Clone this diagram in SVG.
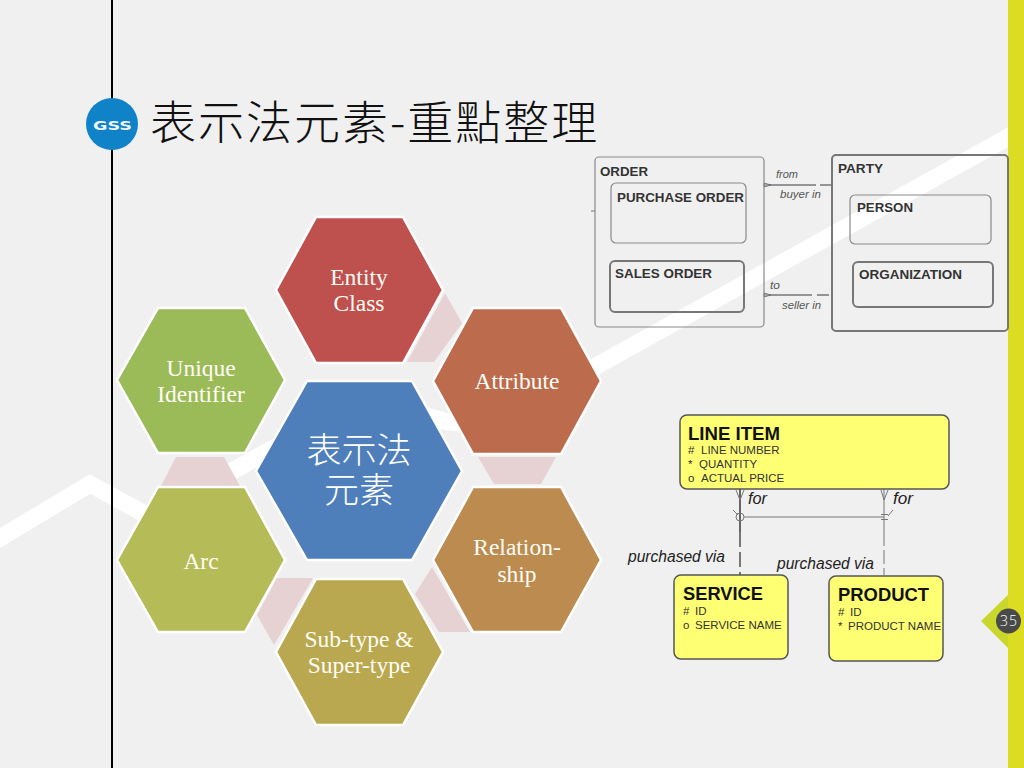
<svg xmlns="http://www.w3.org/2000/svg" width="1024" height="768" viewBox="0 0 1024 768">
<style>
.hex{stroke:#fff;stroke-width:2.5;stroke-linejoin:miter}
.ht{font-family:"Liberation Serif","Noto Serif",serif;font-size:23.5px;fill:#fffdf5;text-anchor:middle}
.pink{fill:#e6d1d3}
.cjk{font-family:"Noto Sans CJK TC","Noto Sans CJK SC",sans-serif;font-weight:300}
.b1{fill:none;stroke:#8a8a8a;stroke-width:1.2}
.b2{fill:none;stroke:#777;stroke-width:2}
.et{font-family:"Liberation Sans",Arial,sans-serif;font-weight:bold;font-size:13px;fill:#333}
.rl{font-family:"Liberation Sans",Arial,sans-serif;font-style:italic;font-size:11px;fill:#555}
.y{fill:#ffff73;stroke:#555;stroke-width:1.5}
.yt{font-family:"Liberation Sans",Arial,sans-serif;font-weight:bold;font-size:18.5px;fill:#111}
.ya{font-family:"Liberation Sans",Arial,sans-serif;font-size:11.5px;fill:#333}
.yr{font-family:"Liberation Sans",Arial,sans-serif;font-style:italic;font-size:16px;fill:#222}
.c{fill:none;stroke:#777;stroke-width:1}
</style>
<rect id="background" width="1024" height="768" fill="#f0f0f0"/>
<polyline id="band" points="-5,541 90,484 150,517 245,464 365,397 445,421.5 490,425 1012,135" fill="none" stroke="#fff" stroke-width="17" stroke-linejoin="miter"/>
<rect id="stripe" x="1008" width="16" height="768" fill="#dcdc22"/>
<rect id="rule" x="111" width="2" height="768" fill="#000"/>
<g id="logo">
<circle cx="112" cy="124" r="26" fill="#0f82c8"/>
<text x="112.500" y="129.500" text-anchor="middle" textLength="39" lengthAdjust="spacingAndGlyphs" font-family="DejaVu Sans,sans-serif" font-weight="bold" font-size="12.500" fill="#eef6fb">GSS</text>
</g>
<text id="title" class="cjk" x="150" y="139" font-size="46" letter-spacing="2" fill="#111">表示法元素-重點整理</text>

<g id="connectors-cycle">
<polygon class="pink" points="445,293 462,323 434,362 407,362"/>
<polygon class="pink" points="478,457 556,457 541,484 494,484"/>
<polygon class="pink" points="432,567 470,632 439,632 415,594"/>
<polygon class="pink" points="277,578 313,578 274,645 257,615"/>
<polygon class="pink" points="176,457 224,457 240,486 161,486"/>
</g>
<g id="hex-center"><polygon class="hex" fill="#4f7fbb" points="256,471 307,381 412,381 462,471 412,560 307,560"/>
<text class="cjk" font-size="35" fill="#fff" text-anchor="middle"><tspan x="359" y="463">表示法</tspan><tspan x="359" y="503">元素</tspan></text></g>
<g id="hex-entity"><polygon class="hex" fill="#be504e" points="276,290 316,217 403,217 443,290 403,363 316,363"/>
<text class="ht" x="359" y="285">Entity</text><text class="ht" x="359" y="311">Class</text></g>
<g id="hex-attribute"><polygon class="hex" fill="#bc6c4d" points="433,381 473,308 561,308 601,381 561,454 473,454"/>
<text class="ht" x="517" y="389">Attribute</text></g>
<g id="hex-relationship"><polygon class="hex" fill="#bb8b50" points="433,560 473,487 561,487 601,560 561,632 473,632"/>
<text class="ht" x="517" y="555">Relation-</text><text class="ht" x="517" y="582">ship</text></g>
<g id="hex-subtype"><polygon class="hex" fill="#b9a850" points="276,652 316,579 403,579 443,652 403,725 316,725"/>
<text class="ht" x="359" y="647">Sub-type &amp;</text><text class="ht" x="359" y="673">Super-type</text></g>
<g id="hex-arc"><polygon class="hex" fill="#b4bb57" points="117,560 158,487 245,487 285,560 245,632 158,632"/>
<text class="ht" x="201" y="569">Arc</text></g>
<g id="hex-unique"><polygon class="hex" fill="#9bbb59" points="117,380 158,308 245,308 285,380 245,453 158,453"/>
<text class="ht" x="201" y="376">Unique</text><text class="ht" x="201" y="402">Identifier</text></g>

<g id="connectors-top">
<path class="c" d="M591,211H595"/>
<path d="M764,185H805" stroke="#777" stroke-width="1.500" fill="none"/>
<path d="M805,185H832" stroke="#777" stroke-width="1.500" fill="none" stroke-dasharray="11 4"/>
<path d="M764,295H800" stroke="#777" stroke-width="1.500" fill="none"/>
<path d="M800,295H832" stroke="#777" stroke-width="1.500" fill="none" stroke-dasharray="12 5"/>
<path d="M764,183L771,185L764,187Z" fill="#aaa" stroke="#666" stroke-width=".8"/>
<path d="M764,293L771,295L764,297Z" fill="#aaa" stroke="#666" stroke-width=".8"/>
<text class="rl" x="776" y="178" textLength="22" lengthAdjust="spacingAndGlyphs">from</text>
<text class="rl" x="780" y="198" textLength="41" lengthAdjust="spacingAndGlyphs">buyer in</text>
<text class="rl" x="770" y="289" textLength="10" lengthAdjust="spacingAndGlyphs">to</text>
<text class="rl" x="782" y="309" textLength="39" lengthAdjust="spacingAndGlyphs">seller in</text>
</g>
<g id="node-order"><rect class="b1" x="595" y="157" width="169" height="170" rx="4"/>
<text class="et" x="600" y="176" textLength="48" lengthAdjust="spacingAndGlyphs">ORDER</text></g>
<g id="node-purchase-order"><rect class="b1" x="611" y="183" width="135" height="60" rx="5"/>
<text class="et" x="617" y="202" textLength="127" lengthAdjust="spacingAndGlyphs">PURCHASE ORDER</text></g>
<g id="node-sales-order"><rect class="b2" x="610" y="261" width="134" height="51" rx="5"/>
<text class="et" x="615" y="278" textLength="97" lengthAdjust="spacingAndGlyphs">SALES ORDER</text></g>
<g id="node-party"><rect class="b2" x="832" y="155" width="176" height="176" rx="4"/>
<text class="et" x="838" y="173" textLength="45" lengthAdjust="spacingAndGlyphs">PARTY</text></g>
<g id="node-person"><rect class="b1" x="850" y="195" width="141" height="49" rx="5"/>
<text class="et" x="857" y="212" textLength="56" lengthAdjust="spacingAndGlyphs">PERSON</text></g>
<g id="node-organization"><rect class="b2" x="853" y="262" width="140" height="45" rx="5" stroke-width="1.500"/>
<text class="et" x="859" y="279" textLength="103" lengthAdjust="spacingAndGlyphs">ORGANIZATION</text></g>

<g id="connectors-bottom">
<path d="M740,489V532" stroke="#666" stroke-width="2" fill="none"/>
<path d="M740,532V575" stroke="#777" stroke-width="2" fill="none" stroke-dasharray="15 5"/>
<path d="M884,489V532" stroke="#777" stroke-width="1" fill="none"/>
<path d="M884,532V575" stroke="#777" stroke-width="1" fill="none" stroke-dasharray="14 4"/>
<path class="c" d="M736,490L740,500L744,490M881,490L884,500L888,490M744,517H884M733,510L738,515M881,514.500H888M881,519.500H888M888,516L893,510"/>
<circle class="c" cx="740" cy="517" r="4"/>
<text class="yr" x="748" y="504" textLength="19" lengthAdjust="spacingAndGlyphs">for</text>
<text class="yr" x="893" y="504" textLength="20" lengthAdjust="spacingAndGlyphs">for</text>
<text class="yr" x="628" y="562" textLength="97" lengthAdjust="spacingAndGlyphs">purchased via</text>
<text class="yr" x="777" y="569" textLength="97" lengthAdjust="spacingAndGlyphs">purchased via</text>
</g>
<g id="node-line-item"><rect class="y" x="680" y="415" width="269" height="74" rx="7"/>
<text class="yt" x="688" y="440" textLength="92" lengthAdjust="spacingAndGlyphs">LINE ITEM</text>
<text class="ya" y="454"><tspan x="688">#</tspan><tspan x="701">LINE NUMBER</tspan></text>
<text class="ya" y="468"><tspan x="688">*</tspan><tspan x="699">QUANTITY</tspan></text>
<text class="ya" y="482"><tspan x="688">o</tspan><tspan x="701">ACTUAL PRICE</tspan></text></g>
<g id="node-service"><rect class="y" x="674" y="575" width="114" height="84" rx="7"/>
<text class="yt" x="683" y="600" textLength="80" lengthAdjust="spacingAndGlyphs">SERVICE</text>
<text class="ya" y="615"><tspan x="683">#</tspan><tspan x="695">ID</tspan></text>
<text class="ya" y="629"><tspan x="683">o</tspan><tspan x="695">SERVICE NAME</tspan></text></g>
<g id="node-product"><rect class="y" x="829" y="576" width="114" height="85" rx="7"/>
<text class="yt" x="838" y="601" textLength="91" lengthAdjust="spacingAndGlyphs">PRODUCT</text>
<text class="ya" y="616"><tspan x="838">#</tspan><tspan x="850">ID</tspan></text>
<text class="ya" y="630"><tspan x="838">*</tspan><tspan x="848">PRODUCT NAME</tspan></text></g>

<g id="page-number">
<polygon points="1008,595 981,621 1008,648" fill="#c9d62c"/>
<circle cx="1008.500" cy="621" r="12.500" fill="#4a4a4a"/>
<text x="1009" y="626" text-anchor="middle" font-family="Open Sans,Liberation Sans,sans-serif" font-weight="300" font-size="14" letter-spacing="1" fill="#fff">35</text>
</g>
</svg>
